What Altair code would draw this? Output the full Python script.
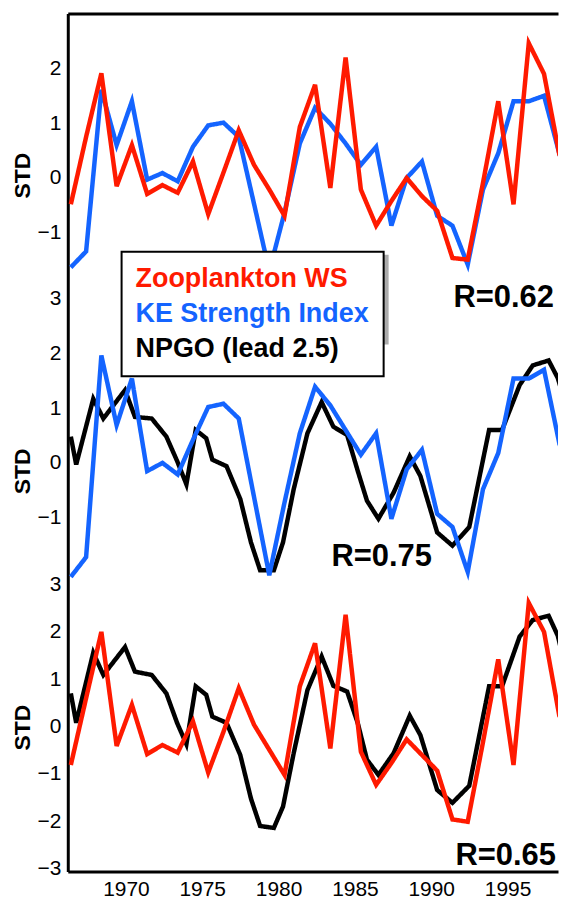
import altair as alt
import pandas as pd

# ---------------- data ----------------
years = list(range(1966, 2000))

# top panel
zoo_top = [-0.48, 0.75, 1.91, -0.15, 0.60, -0.29, -0.13, -0.27, 0.30, -0.66,
           0.10, 0.87, 0.24, -0.21, -0.69, 0.93, 1.70, -0.18, 2.20, -0.21,
           -0.87, -0.42, 0.00, -0.33, -0.60, -1.46, -1.49, -0.09, 1.40, -0.48,
           2.46, 1.90, 0.43, 0.00]
ke_top = [-1.63, -1.34, 1.61, 0.60, 1.40, -0.03, 0.09, -0.06, 0.57, 0.96,
          1.01, 0.75, -0.47, -1.70, -0.63, 0.63, 1.28, 0.99, 0.63, 0.24,
          0.57, -0.87, 0.00, 0.30, -0.69, -0.87, -1.58, -0.21, 0.45, 1.40,
          1.40, 1.50, 0.45, -0.44]

# middle panel
ke_mid = [-2.08, -1.72, 1.96, 0.69, 1.54, -0.15, 0.00, -0.21, 0.42, 1.02,
          1.08, 0.81, -0.62, -2.05, -0.72, 0.54, 1.39, 1.05, 0.60, 0.15,
          0.54, -1.02, -0.12, 0.24, -0.93, -1.17, -1.99, -0.48, 0.18, 1.54,
          1.54, 1.70, 0.36, -0.50]

npgo_years = [1966.0, 1966.35, 1967.47, 1968.13, 1969.55, 1970.2, 1971.3, 1972.26,
              1972.97, 1973.57, 1974.18, 1974.87, 1975.27, 1976.2, 1977.1, 1977.8,
              1978.4, 1979.3, 1979.9, 1980.6, 1981.5, 1982.43, 1983.2, 1984.1,
              1984.8, 1985.4, 1986.15, 1987.15, 1988.2, 1988.9, 1990.0, 1991.0,
              1992.1, 1993.4, 1994.25, 1995.4, 1996.26, 1997.3, 1997.9, 1999.0]
npgo_mid = [0.48, -0.03, 1.17, 0.81, 1.33, 0.84, 0.81, 0.48, 0.03, -0.39,
            0.60, 0.45, 0.06, -0.06, -0.66, -1.45, -1.96, -1.96, -1.45, -0.48,
            0.54, 1.11, 0.66, 0.51, -0.15, -0.69, -1.02, -0.54, 0.12, -0.24,
            -1.27, -1.51, -1.17, 0.60, 0.60, 1.42, 1.78, 1.87, 1.55, 0.54]

# bottom panel
zoo_bot = [-0.81, 0.60, 2.00, -0.41, 0.46, -0.58, -0.39, -0.55, 0.11, -0.97,
           -0.11, 0.81, 0.04, -0.49, -1.02, 0.85, 1.76, -0.46, 2.36, -0.53,
           -1.23, -0.77, -0.27, -0.60, -0.93, -1.96, -2.01, -0.33, 1.42, -0.81,
           2.61, 2.00, 0.23, -0.28]
npgo_bot = [0.70, 0.08, 1.56, 1.09, 1.68, 1.16, 1.09, 0.70, 0.07, -0.37,
            0.85, 0.67, 0.21, 0.08, -0.60, -1.52, -2.10, -2.14, -1.69, -0.56,
            0.77, 1.48, 0.86, 0.74, 0.07, -0.70, -1.02, -0.56, 0.23, -0.18,
            -1.34, -1.61, -1.25, 0.85, 0.85, 1.90, 2.25, 2.34, 1.92, 0.46]

series_names = ["Zooplankton WS", "KE Strength Index", "NPGO (lead 2.5)"]
series_colors = ["#ff1a00", "#1464ff", "#000000"]
x_ticks = [1970, 1975, 1980, 1985, 1990, 1995]
r_texts = ["R=0.62", "R=0.75", "R=0.65"]
# annotation anchors (year, value) in each panel's own units
r_years = [1994.36, 1986.36, 1994.49]
r_values = [-2.35, -1.89, -2.93]

# ---------------- helpers ----------------
FONT = "Liberation Sans"
W = 492
PX_PER_YEAR = 15.32
XDOM = [1965.8, 1965.8 + W / PX_PER_YEAR]
LEG_X, LEG_Y = 54, 239
LEG_FS = 27


def frame(name, xs, ys):
    return pd.DataFrame({"series": name, "box": name, "year": xs, "value": ys})


label_color_expr = ("datum.value === 'Zooplankton WS' ? '#ff1a00' : "
                    "(datum.value === 'KE Strength Index' ? '#1464ff' : '#000000')")
legend_main = alt.Legend(
    title=None, orient="none", direction="vertical",
    legendX=LEG_X, legendY=LEG_Y, zindex=2,
    labelFont=FONT, labelFontSize=LEG_FS, labelFontWeight="bold",
    labelColor={"expr": label_color_expr},
    labelLimit=600, labelOffset={"expr": str(-LEG_FS)},
    symbolSize=0, symbolOpacity=0, symbolStrokeWidth=0,
    padding=14, rowPadding=7,
    fillColor="white", strokeColor="black",
)
# soft drop shadow behind the legend box: a label-less legend of the same size
legend_shadow = alt.Legend(
    title=None, orient="none", direction="horizontal",
    legendX=LEG_X + 4, legendY=LEG_Y + 4, zindex=1,
    labelExpr="''", labelFontSize=1, labelOffset=0,
    symbolSize=4900, symbolOpacity=0, symbolStrokeWidth=0,
    columnPadding=0, padding=26.5,
    fillColor="#ababab", strokeColor="#ababab",
)

color = alt.Color("series:N",
                  scale=alt.Scale(domain=series_names, range=series_colors),
                  legend=legend_main)
dash = alt.StrokeDash("box:N",
                      scale=alt.Scale(domain=series_names[::-1],
                                      range=[[1, 0], [1, 0], [1, 0]]),
                      legend=legend_shadow)


def line_layer(df, xenc, yenc):
    return alt.Chart(df).mark_line(strokeWidth=4.5, clip=True).encode(
        x=xenc, y=yenc, color=color, strokeDash=dash)


def text_layer(i, xenc, yenc):
    df = pd.DataFrame({"year": [r_years[i]], "value": [r_values[i]],
                       "label": [r_texts[i]]})
    return alt.Chart(df).mark_text(font=FONT, fontSize=31, fontWeight="bold",
                                   align="center", baseline="alphabetic",
                                   color="black").encode(
        x=xenc, y=yenc, text="label:N")


def yenc(dom, ticks, title_y):
    return alt.Y("value:Q", scale=alt.Scale(domain=dom, nice=False, zero=False),
                 axis=alt.Axis(values=ticks, title="STD", format="d",
                               titleY=title_y))


xscale = alt.Scale(domain=XDOM, nice=False, zero=False)
x_top = alt.X("year:Q", scale=xscale,
              axis=alt.Axis(orient="top", labels=False, title=None))
x_none = alt.X("year:Q", scale=xscale, axis=None)
x_bottom = alt.X("year:Q", scale=xscale,
                 axis=alt.Axis(values=x_ticks, format="d", title=None,
                               labelOffset=-6))

y1 = yenc([-2.2, 3], [-1, 0, 1, 2], 162)
y2 = yenc([-2.22, 3], [-1, 0, 1, 2, 3], 173)
y3 = yenc([-3.06, 3], [-3, -2, -1, 0, 1, 2, 3], 143)

p1 = alt.layer(
    line_layer(frame(series_names[1], years, ke_top), x_top, y1),
    line_layer(frame(series_names[0], years, zoo_top), x_top, y1),
    text_layer(0, x_top, y1),
).properties(width=W, height=286)

p2 = alt.layer(
    line_layer(frame(series_names[2], npgo_years, npgo_mid), x_none, y2),
    line_layer(frame(series_names[1], years, ke_mid), x_none, y2),
    text_layer(1, x_none, y2),
).properties(width=W, height=287)

p3 = alt.layer(
    line_layer(frame(series_names[2], npgo_years, npgo_bot), x_bottom, y3),
    line_layer(frame(series_names[0], years, zoo_bot), x_bottom, y3),
    text_layer(2, x_bottom, y3),
).properties(width=W, height=288)

chart = alt.vconcat(p1, p2, p3, spacing=0, bounds="flush").resolve_scale(
    color="shared", strokeDash="shared", y="independent", x="shared"
).properties(
    padding={"left": 3, "top": 3, "right": 0, "bottom": 0},
    background="white",
).configure_view(
    stroke="transparent"
).configure_axis(
    domainColor="black", domainWidth=3, ticks=False, tickSize=0, grid=False,
    labelFont=FONT, labelFontSize=21, labelColor="black", labelPadding=7,
    titleFont=FONT, titleFontSize=23, titleFontWeight="bold", titleColor="black",
    titlePadding=2,
).configure_legend(
    strokeWidth=2
)

chart.save("out.html", embed_options={"renderer": "svg", "actions": False})
